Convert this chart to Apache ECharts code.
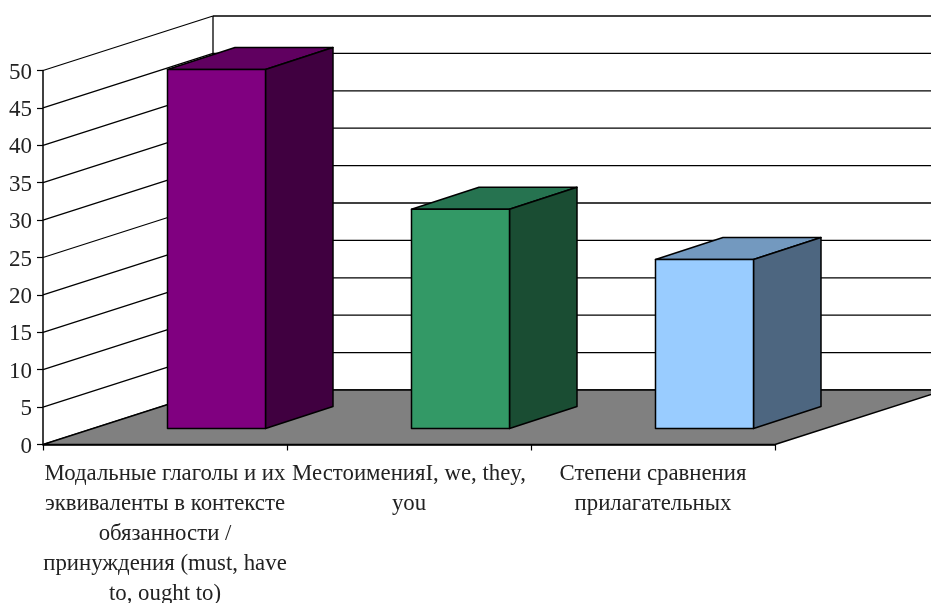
<!DOCTYPE html>
<html>
<head>
<meta charset="utf-8">
<style>html,body{margin:0;padding:0;background:#fff}#chart{width:931px;height:603px}</style>
<script src="https://cdn.jsdelivr.net/npm/echarts@6/dist/echarts.min.js"></script>
</head>
<body>
<div id="chart"></div>
<script>
// Category labels, measured values and the value-axis ticks
const categories = [
  'Модальные глаголы и их\nэквиваленты в контексте\nобязанности /\nпринуждения (must, have\nto, ought to)',
  'МестоименияI, we, they,\nyou',
  'Степени сравнения\nприлагательных'
];
const values = [48, 29.3, 22.6];
const valueTicks = [0, 5, 10, 15, 20, 25, 30, 35, 40, 45, 50];

// Colours of each bar: front, side and top faces
const frontColors = ['#800080', '#339966', '#99ccff'];
const sideColors = ['#400040', '#1a4d33', '#4d6680'];
const topColors = ['#600060', '#267350', '#7399bf'];

// Oblique projection offsets for the box
const WALL_DX = 170, WALL_DY = -54.5;
const INSET_DX = 51.5, INSET_DY = -16;
const BAR_DX = 67.5, BAR_DY = -22;
const BAR_WIDTH = 98;
const LINE = { stroke: '#000', lineWidth: 1.3 };

function poly(points, fill) {
  return {
    type: 'polygon',
    shape: { points },
    style: { fill, stroke: '#000', lineWidth: 1.5, lineJoin: 'round' }
  };
}

// One gridline per tick: along the side wall, then across the back wall
function renderGridline(params, api) {
  const rect = params.coordSys;
  const y = api.coord([0, api.value(1)])[1];
  const x0 = rect.x, x1 = rect.x + WALL_DX;
  return {
    type: 'group',
    children: [
      { type: 'line', shape: { x1: x0, y1: y, x2: x1, y2: y + WALL_DY }, style: LINE },
      { type: 'line', shape: { x1: x1, y1: y + WALL_DY, x2: x1 + rect.width, y2: y + WALL_DY }, style: LINE }
    ]
  };
}

// Floor plane and the vertical corner where the walls meet
function renderFloor(params, api) {
  const rect = params.coordSys;
  const y0 = api.coord([0, 0])[1];
  const yTop = api.coord([0, valueTicks[valueTicks.length - 1]])[1];
  const l = rect.x, r = rect.x + rect.width;
  return {
    type: 'group',
    children: [
      { type: 'line', shape: { x1: l + WALL_DX, y1: yTop + WALL_DY, x2: l + WALL_DX, y2: y0 + WALL_DY }, style: LINE },
      poly([[l, y0], [r, y0], [r + WALL_DX, y0 + WALL_DY], [l + WALL_DX, y0 + WALL_DY]], '#808080')
    ]
  };
}

// A bar as three faces, set back from the front edge of the floor
function renderBar(params, api) {
  const i = api.value(0);
  const base = api.coord([i, 0]);
  const head = api.coord([i, api.value(1)]);
  const xl = base[0] + INSET_DX - BAR_WIDTH / 2, xr = xl + BAR_WIDTH;
  const yb = base[1] + INSET_DY, yt = head[1] + INSET_DY;
  return {
    type: 'group',
    children: [
      poly([[xl, yt], [xr, yt], [xr + BAR_DX, yt + BAR_DY], [xl + BAR_DX, yt + BAR_DY]], topColors[i]),
      poly([[xr, yt], [xr + BAR_DX, yt + BAR_DY], [xr + BAR_DX, yb + BAR_DY], [xr, yb]], sideColors[i]),
      poly([[xl, yt], [xr, yt], [xr, yb], [xl, yb]], frontColors[i])
    ]
  };
}

const textStyle = { color: '#222', fontFamily: '"Liberation Serif", serif' };

const chart = echarts.init(document.getElementById('chart'), null, { renderer: 'canvas' });
chart.setOption({
  animation: false,
  backgroundColor: '#fff',
  grid: { left: 43, top: 70.5, width: 732, height: 374, containLabel: false, outerBoundsMode: 'none' },
  xAxis: {
    type: 'category',
    data: categories,
    z: 6,
    axisLine: { show: true, lineStyle: { color: '#000', width: 1.5 } },
    axisTick: { show: true, length: 6, alignWithLabel: false, lineStyle: { color: '#000', width: 1.2 } },
    axisLabel: { ...textStyle, fontSize: 22.8, lineHeight: 30, interval: 0, margin: 15, hideOverlap: false },
    splitLine: { show: false }
  },
  yAxis: {
    type: 'value',
    min: 0,
    max: 50,
    interval: 5,
    z: 6,
    axisLine: { show: true, lineStyle: { color: '#000', width: 1.5 } },
    axisTick: { show: true, length: 6, lineStyle: { color: '#000', width: 1.2 } },
    // The short line box anchored at the tick sets the digits slightly below it
    axisLabel: { ...textStyle, fontSize: 23, margin: 11, verticalAlign: 'top', lineHeight: 4 },
    splitLine: { show: false }
  },
  series: [
    {
      type: 'custom', clip: false, z: 1, silent: true,
      renderItem: renderGridline,
      data: valueTicks.map(v => [0, v])
    },
    {
      type: 'custom', clip: false, z: 2, silent: true,
      renderItem: renderFloor,
      data: [[0, 0]]
    },
    {
      type: 'custom', clip: false, z: 3, silent: true,
      renderItem: renderBar,
      data: values.map((v, i) => [i, v])
    }
  ]
});
</script>
</body>
</html>
